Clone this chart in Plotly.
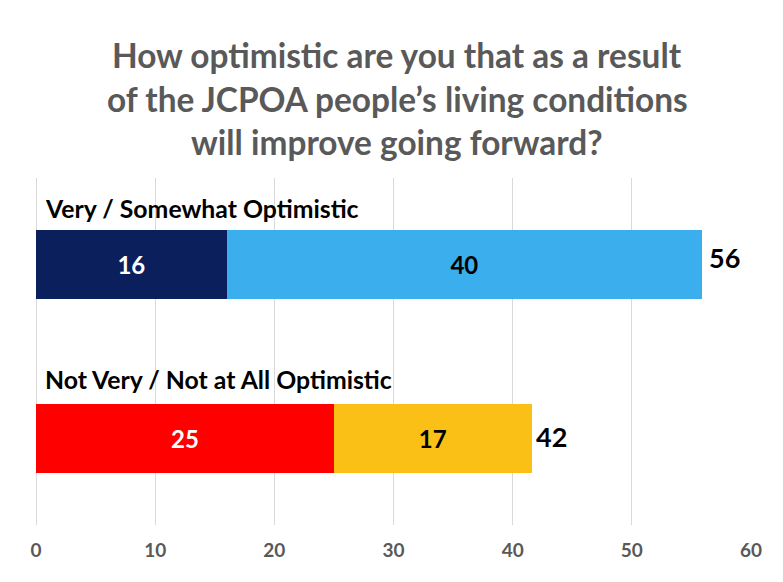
import plotly.graph_objects as go

categories = ["Not Very / Not at All Optimistic", "Very / Somewhat Optimistic"]
strong = [25, 16]
mild = [16.6, 39.9]
strong_labels = ["25", "16"]
mild_labels = ["17", "40"]
totals = [42, 56]
total_xshift = [-3, 4]
total_yshift = [2, 7]
label_yshift = [59, 56]
strong_colors = ["#FF0000", "#0B1F5C"]
mild_colors = ["#FBC015", "#3BAEEE"]
title_lines = ["How optimistic are you that as a result",
               "of the JCPOA people’s living conditions",
               "will improve going forward?"]
title_y = [55, 99, 142]
font = "Lato, Open Sans, sans-serif"
W, H = 783, 582
L, R, T, B = 28, 40, 170, 65

fig = go.Figure()
fig.add_bar(y=categories, x=strong, orientation="h", marker=dict(color=strong_colors, line_width=0),
            text=strong_labels, textposition="inside", insidetextanchor="middle", textangle=0,
            textfont=dict(color="#FFFFFF", size=24, family=font, weight="bold"), hoverinfo="skip")
fig.add_bar(y=categories, x=mild, orientation="h", marker=dict(color=mild_colors, line_width=0),
            text=mild_labels, textposition="inside", insidetextanchor="middle", textangle=0,
            textfont=dict(color="#000000", size=24, family=font, weight="bold"), hoverinfo="skip")
for c, t, dx, dy, ly in zip(categories, totals, total_xshift, total_yshift, label_yshift):
    fig.add_annotation(x=t, y=c, text=f"<b>{t}</b>", showarrow=False, xanchor="left", xshift=dx, yshift=dy,
                       font=dict(size=27, color="#000000", family=font))
    fig.add_annotation(x=0, y=c, text=f"<b>{c}</b>", showarrow=False, xanchor="left", xshift=7, yshift=ly,
                       font=dict(size=24.8, color="#000000", family=font))
for line, y in zip(title_lines, title_y):
    fig.add_annotation(xref="paper", yref="paper", x=(397 - 8 - L) / (W - L - R),
                       y=1 + (T + 8 - y) / (H - T - B), text=f"<b>{line}</b>", showarrow=False,
                       xanchor="center", yanchor="middle", font=dict(size=33.4, color="#595959", family=font))
fig.update_layout(
    width=W, height=H, barmode="stack", bargap=0.6, showlegend=False,
    paper_bgcolor="#FFFFFF", plot_bgcolor="#FFFFFF",
    margin=dict(l=L, r=R, t=T, b=B), autosize=False,
    xaxis=dict(range=[0, 60], dtick=10, showgrid=True, gridcolor="#D9D9D9", gridwidth=1, zeroline=True,
               zerolinecolor="#D9D9D9", zerolinewidth=1, ticks="", ticklen=0, automargin=False,
               ticklabelstandoff=12,
               tickfont=dict(size=19, color="#595959", family=font, weight="bold")),
    yaxis=dict(showticklabels=False, ticks="", showline=False, automargin=False),
)
fig.write_html("out.html")
